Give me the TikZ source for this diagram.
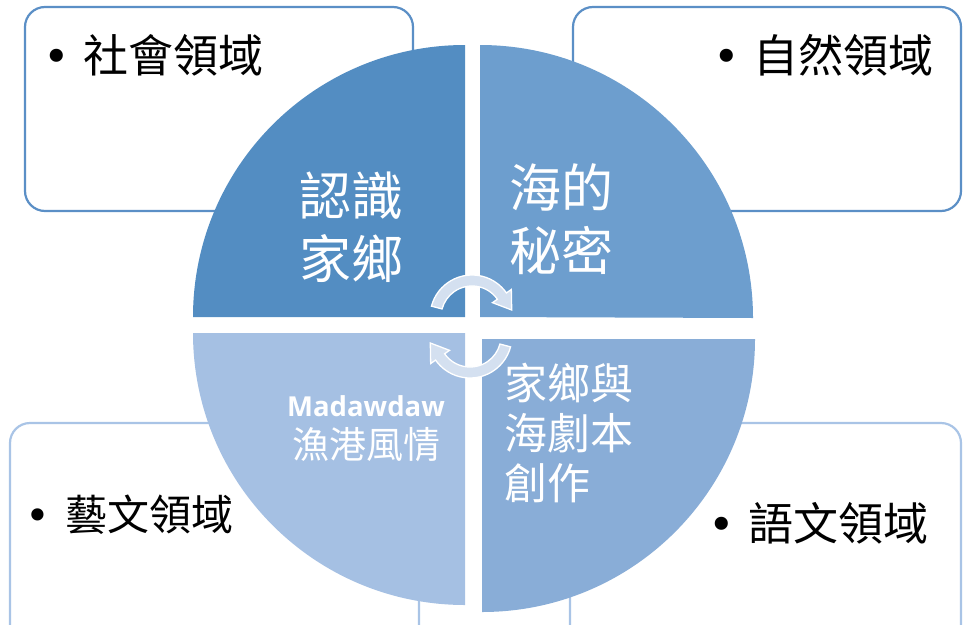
\documentclass[tikz,border=0pt]{standalone}
\usepackage{fontspec}
\newfontfamily\cjk{Noto Sans CJK TC}
\newfontfamily\bulfont{DejaVu Sans}
\newfontfamily\latin{Open Sans}
\definecolor{qone}{HTML}{538DC2}
\definecolor{qtwo}{HTML}{6D9ECE}
\definecolor{qthree}{HTML}{89ADD7}
\definecolor{qfour}{HTML}{A5C0E3}
\definecolor{bdark}{HTML}{5B8FC6}
\definecolor{blight}{HTML}{A9C4E6}
\definecolor{arrfill}{HTML}{D4E0F0}
\newcommand{\bulitem}[2]{\makebox[40pt][l]{\bulfont\fontsize{#1}{#1}\selectfont •}#2}
\begin{document}
\begin{tikzpicture}[x=1pt,y=1pt,
  areabox/.style={rounded corners=20pt, line width=2.2pt, fill=white},
  boxtxt/.style={inner sep=0pt, text=black, font=\cjk},
  quadtxt/.style={inner sep=0pt, text=white, align=left},
  cyclearrow/.style={fill=arrfill, draw=white, line width=1.3pt, line join=miter}]
\useasboundingbox (0,0) rectangle (963,-624);
% domain boxes
\draw[areabox, draw=bdark] (25,-7) rectangle (413,-211);
\draw[areabox, draw=bdark] (573,-7) rectangle (961,-211);
\draw[areabox, draw=blight] (10,-423) rectangle (419,-660);
\draw[areabox, draw=blight] (570,-423) rectangle (961,-660);
% box texts
\node[boxtxt, anchor=base west] (t1) at (43,-72) {\fontsize{45}{45}\selectfont\bulitem{45}{社會領域}};
\node[boxtxt, anchor=base west] (t2) at (713,-72) {\fontsize{45}{45}\selectfont\bulitem{45}{自然領域}};
\node[boxtxt, anchor=base west] (t3) at (25,-530) {\fontsize{42}{42}\selectfont\bulitem{42}{藝文領域}};
\node[boxtxt, anchor=base west] (t4) at (708,-540) {\fontsize{45}{45}\selectfont\bulitem{45}{語文領域}};
% quadrants
\fill[qone] (465,-317) -- (193,-317) arc[start angle=180,end angle=90,radius=272] -- cycle;
\fill[qtwo] (480,-317) -- (480,-45) arc[start angle=90,end angle=0,radius=273] -- cycle;
\fill[qfour] (465,-333) -- (193,-333) arc[start angle=180,end angle=270,radius=272] -- cycle;
\fill[qthree] (482,-339) -- (755,-339) arc[start angle=0,end angle=-90,radius=273] -- cycle;
% quadrant texts
\node[quadtxt, anchor=north west, font={\cjk\fontsize{52}{63}\selectfont}] (q1) at (299,-172) {認識\\家鄉};
\node[quadtxt, anchor=north west, font={\cjk\fontsize{52}{63}\selectfont}] (q2) at (509,-163) {海的\\秘密};
\node[quadtxt, anchor=north west, font={\cjk\fontsize{43}{50}\selectfont}] (q3) at (504,-363) {家鄉與\\海劇本\\創作};
\node[quadtxt, anchor=north, align=center, font={\cjk\fontsize{37}{42}\selectfont}] (q4) at (366,-395) {{\latin\bfseries\fontsize{27.5}{42}\selectfont Madawdaw}\\漁港風情};
% circular arrows
\begin{scope}[shift={(472,-317)}]
\filldraw[cyclearrow] (165:42) arc[start angle=165,end angle=35,radius=42] -- (35:48) -- (39.7,7.0) -- (35:25) -- (35:31) arc[start angle=35,end angle=165,radius=31] -- cycle;
\end{scope}
\begin{scope}[shift={(470,-336)}, rotate=180]
\filldraw[cyclearrow] (165:42) arc[start angle=165,end angle=35,radius=42] -- (35:48) -- (39.7,7.0) -- (35:25) -- (35:31) arc[start angle=35,end angle=165,radius=31] -- cycle;
\end{scope}
\end{tikzpicture}
\end{document}
